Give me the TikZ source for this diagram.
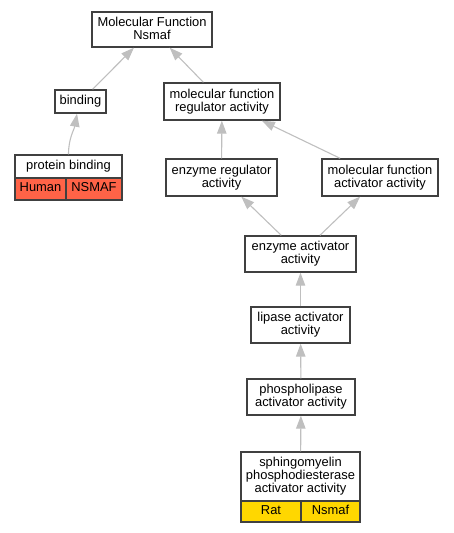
\documentclass[tikz,border=0pt]{standalone}
\usepackage{fontspec}
\setmainfont{Liberation Sans}
\usetikzlibrary{arrows.meta}
\definecolor{tomato}{HTML}{FF6347}
\definecolor{gold}{HTML}{FFD700}

\begin{document}
\begin{tikzpicture}[x=1pt, y=-1pt, >={Triangle[length=13pt, width=9.5pt]},
  term/.style={draw=black!75, line width=1.4pt, fill=white, inner sep=0pt,
    align=center, text depth=3.2pt, font=\fontsize{12.9}{13}\selectfont},
  edge/.style={->, draw=black!25, line width=1.1pt}]
  \useasboundingbox (0,0) rectangle (453,533);
  % terms
  \node[term, minimum width=120pt, minimum height=35pt] (mf) at (152,29.5) {Molecular Function\\Nsmaf};
  \node[term, minimum width=51pt, minimum height=23pt] (bind) at (80.5,101.5) {binding};
  \node[term, minimum width=116pt, minimum height=37pt] (mfra) at (222,101.5) {molecular function\\regulator activity};
  \node[term, minimum width=107pt, minimum height=23pt] (pb) at (68.5,166.5) {protein binding};
  \node[term, fill=tomato, minimum width=51pt, minimum height=22pt] (pbH) at (40.5,189) {Human};
  \node[term, fill=tomato, minimum width=56pt, minimum height=22pt] (pbN) at (94,189) {NSMAF};
  \node[term, minimum width=111pt, minimum height=37pt] (er) at (221.5,177.5) {enzyme regulator\\activity};
  \node[term, minimum width=116pt, minimum height=37pt] (mfaa) at (380,177.5) {molecular function\\activator activity};
  \node[term, minimum width=111pt, minimum height=36pt] (eaa) at (300.5,254) {enzyme activator\\activity};
  \node[term, minimum width=99pt, minimum height=36pt] (laa) at (300.5,325) {lipase activator\\activity};
  \node[term, minimum width=108pt, minimum height=36pt] (plaa) at (301,397) {phospholipase\\activator activity};
  \node[term, minimum width=119pt, minimum height=49pt] (smpd) at (300.5,476.5) {sphingomyelin\\phosphodiesterase\\activator activity};
  \node[term, fill=gold, minimum width=60pt, minimum height=21pt] (smpdR) at (271,511.5) {Rat};
  \node[term, fill=gold, minimum width=59pt, minimum height=21pt] (smpdN) at (330.5,511.5) {Nsmaf};
  % is_a
  \draw[edge] (bind) -- (mf);
  \draw[edge] (mfra) -- (mf);
  \draw[edge] (pb.north) to[out=90, in=-100] ([xshift=-3.5pt]bind.south);
  \draw[edge] (er) -- (mfra);
  \draw[edge] (mfaa) -- (mfra);
  \draw[edge] (eaa) -- (er);
  \draw[edge] (eaa) -- (mfaa);
  \draw[edge] (laa) -- (eaa);
  \draw[edge] (plaa) -- (laa);
  \draw[edge] (smpd) -- (plaa);
\end{tikzpicture}
\end{document}
